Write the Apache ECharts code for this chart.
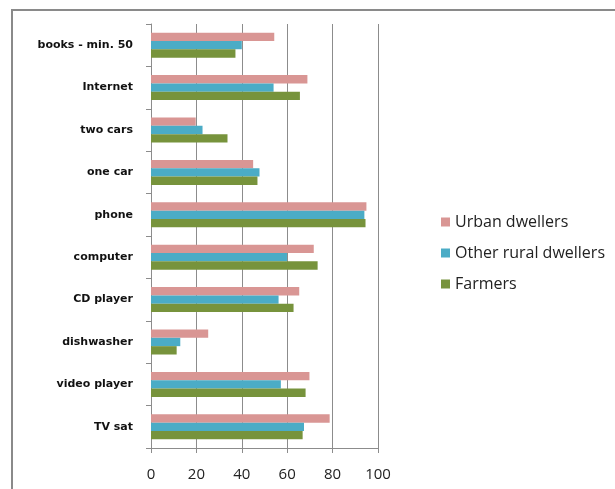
<!DOCTYPE html>
<html>
<head>
<meta charset="utf-8">
<script src="https://cdn.jsdelivr.net/npm/echarts@6/dist/echarts.min.js"></script>
<style>
  html, body { margin: 0; padding: 0; background: #fff; }
  #chart { width: 615px; height: 489px; position: relative; }
  #frame { position: absolute; left: 11px; top: 9px; right: 0; bottom: 0;
           border-top: 2px solid #8a8a8a; border-left: 2px solid #8a8a8a; pointer-events: none; }
</style>
</head>
<body>
<div id="chart"></div>
<div id="frame"></div>
<script>
// Household equipment by group (%), categories listed bottom to top
const categories = ['TV sat', 'video player', 'dishwasher', 'CD player', 'computer',
                    'phone', 'one car', 'two cars', 'Internet', 'books - min. 50'];
const urban   = [78.7, 69.8, 25.2, 65.3, 71.7, 94.9, 45.0, 19.7, 68.9, 54.3];
const otherRural = [67.4, 57.2, 12.9, 56.2, 59.9, 94.0, 47.8, 22.7, 54.0, 40.0];
const farmers = [66.8, 68.1, 11.3, 62.8, 73.4, 94.5, 46.9, 33.7, 65.6, 37.2];
const xTicks = [0, 20, 40, 60, 80, 100];

const chart = echarts.init(document.getElementById('chart'));
chart.setOption({
  animation: false,
  backgroundColor: '#fff',
  grid: { left: 151, top: 24, width: 227, height: 424, containLabel: false },
  legend: {
    orient: 'vertical',
    left: 436,
    top: 208,
    data: ['Urban dwellers', 'Other rural dwellers', 'Farmers'],
    icon: 'rect',
    itemWidth: 9,
    itemHeight: 9,
    itemGap: 13,
    textStyle: { fontFamily: 'Open Sans', fontSize: 16, color: '#222', lineHeight: 18 }
  },
  xAxis: {
    type: 'value',
    min: xTicks[0],
    max: xTicks[xTicks.length - 1],
    interval: 20,
    axisLine: { show: true, lineStyle: { color: '#8c8c8c' } },
    axisTick: { show: true, length: 5, lineStyle: { color: '#8c8c8c' } },
    splitLine: { show: true, lineStyle: { color: '#8c8c8c' } },
    axisLabel: { fontFamily: 'Open Sans', fontSize: 15, color: '#222', margin: 19 }
  },
  yAxis: {
    type: 'category',
    data: categories,
    axisLine: { show: true, lineStyle: { color: '#8c8c8c' } },
    axisTick: { show: true, length: 5, lineStyle: { color: '#8c8c8c' } },
    axisLabel: { fontFamily: 'DejaVu Sans', fontWeight: 'bold', fontSize: 11, color: '#111', margin: 18 }
  },
  series: [
    { name: 'Urban dwellers', type: 'bar', data: urban, itemStyle: { color: '#D99694' },
      barGap: '0%', barCategoryGap: '41%' },
    { name: 'Other rural dwellers', type: 'bar', data: otherRural, itemStyle: { color: '#4BACC6' } },
    { name: 'Farmers', type: 'bar', data: farmers, itemStyle: { color: '#77933C' } }
  ]
});
</script>
</body>
</html>
